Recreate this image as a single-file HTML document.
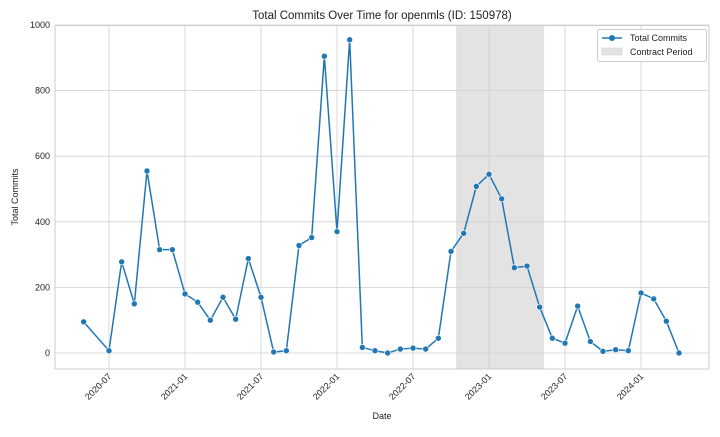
<!DOCTYPE html>
<html><head><meta charset="utf-8"><style>
body{margin:0;background:#fff;font-family:"Liberation Sans",sans-serif;}
svg text{font-family:"Liberation Sans",sans-serif;fill:#222;}
</style></head><body>
<svg id="chart" width="720" height="432" xmlns="http://www.w3.org/2000/svg">
<text x="382" y="19" font-size="11.5" text-anchor="middle">Total Commits Over Time for openmls (ID: 150978)</text>
<g id="grid"></g>
<g id="marks"></g>
<g id="axes"></g>
<text x="382" y="419" font-size="9" text-anchor="middle">Date</text>
<text transform="translate(18,197) rotate(-90)" font-size="9" text-anchor="middle">Total Commits</text>
<g>
<rect x="597.5" y="29.5" width="109" height="32" fill="#fff" fill-opacity="0.8" stroke="#ccc" rx="2"/>
<line x1="602" y1="38" x2="622" y2="38" stroke="#1f77b4" stroke-width="1.5"/>
<circle cx="612" cy="38" r="3" fill="#1f77b4"/>
<text x="630" y="41" font-size="9">Total Commits</text>
<rect x="602" y="48" width="20" height="7" fill="#e3e3e3" stroke="#d0d0d0" stroke-width="0.5"/>
<text x="630" y="55" font-size="9">Contract Period</text>
</g>
</svg>
<script>
// month index: 0 = 2020-01
const months = [4,6,7,8,9,10,11,12,13,14,15,16,17,18,19,20,21,22,23,24,25,26,27,28,29,30,31,32,33,34,35,36,37,38,39,40,41,42,43,44,45,46,47,48,49,50,51];
const commits = [95,7,278,150,555,315,315,180,155,100,170,103,288,170,3,7,328,352,905,370,955,17,7,0,12,15,12,45,310,365,508,545,470,260,265,140,45,30,143,35,5,10,7,183,165,97,0];
const yTicks = [0,200,400,600,800,1000];
const xTickMonths = [6,12,18,24,30,36,42,48];
const xTickLabels = ["2020-07","2021-01","2021-07","2022-01","2022-07","2023-01","2023-07","2024-01"];
const contractStart = 33.4;
const contractEnd = 40.35;

const L=55,R=709,T=25.5,B=369;
const xs = m => 109 + (m-6)*12.667;
const ys = v => 353 - v*0.328;
const NS="http://www.w3.org/2000/svg";
function mk(tag,attrs,parent){const e=document.createElementNS(NS,tag);for(const k in attrs)e.setAttribute(k,attrs[k]);parent.appendChild(e);return e;}
const grid=document.getElementById('grid'),marks=document.getElementById('marks'),axes=document.getElementById('axes');
const bg=mk('rect',{x:L,y:T,width:R-L,height:B-T,fill:'#fff'},grid);


const band=mk('rect',{x:xs(contractStart),y:T,width:xs(contractEnd)-xs(contractStart),height:B-T,fill:'#e3e3e3'},grid);


yTicks.forEach(v=>{
  const g=mk('line',{x1:L,x2:R,y1:ys(v),y2:ys(v),stroke:'#cfcfcf','stroke-width':0.8},grid);
  
  
  const t=mk('text',{x:L-5,y:ys(v)+3,'font-size':9,'text-anchor':'end'},axes);
  t.textContent=v;
  
  
});
xTickMonths.forEach((m,i)=>{
  const x=xs(m);
  const g=mk('line',{x1:x,x2:x,y1:T,y2:B,stroke:'#cfcfcf','stroke-width':0.8},grid);
  
  
  const t=mk('text',{x:x+3,y:B+8,'font-size':9,'text-anchor':'end',transform:`rotate(-45 ${x+3} ${B+8})`},axes);
  t.textContent=xTickLabels[i];
  
  
});
const frame=mk('rect',{x:L,y:T,width:R-L,height:B-T,fill:'none',stroke:'#ccc','stroke-width':1},axes);


const line=mk('polyline',{points:months.map((m,i)=>xs(m)+','+ys(commits[i])).join(' '),fill:'none',stroke:'#1f77b4','stroke-width':1.5},marks);


months.forEach((m,i)=>{
  const c=mk('circle',{cx:xs(m),cy:ys(commits[i]),r:3,fill:'#1f77b4',stroke:'#fff','stroke-width':0.6},marks);
  
  
});
</script>
</body></html>
